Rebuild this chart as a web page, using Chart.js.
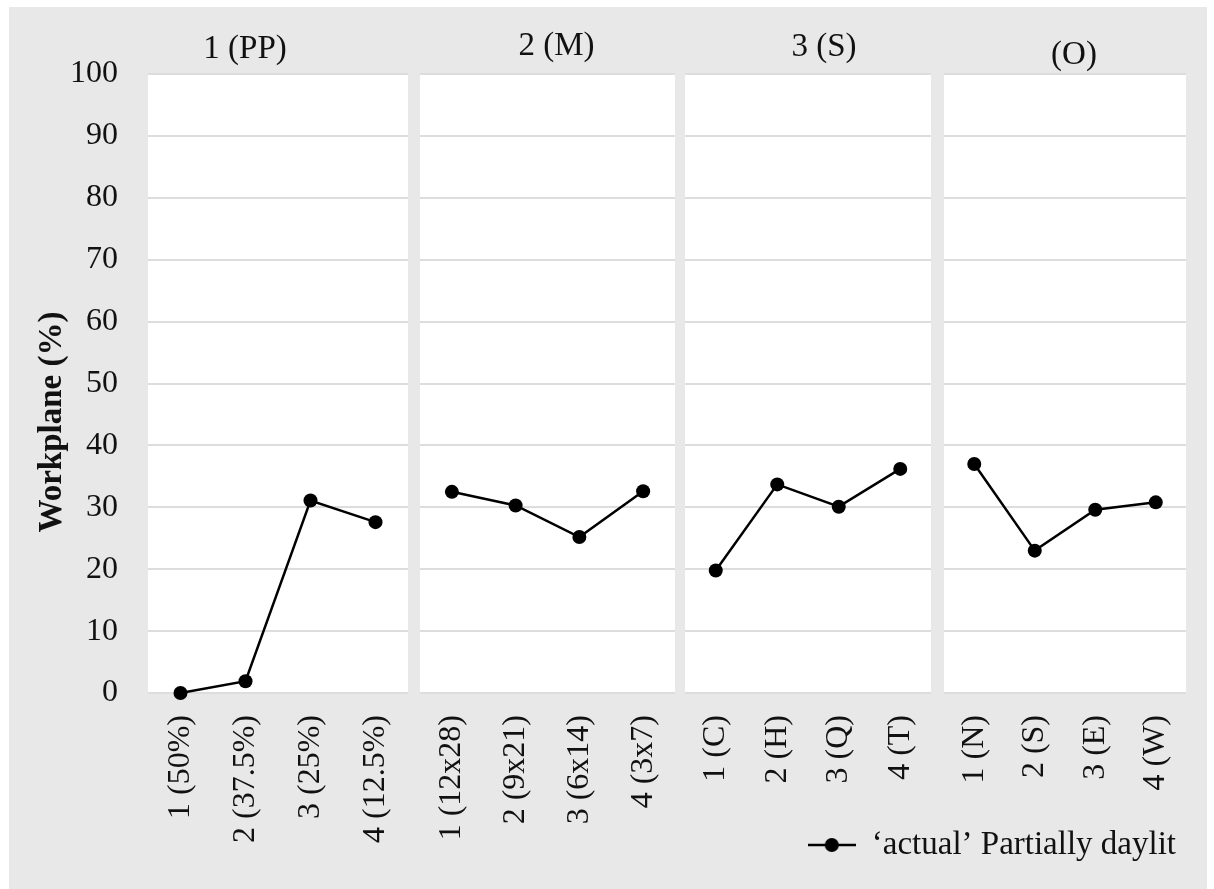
<!DOCTYPE html>
<html>
<head>
<meta charset="utf-8">
<script src="https://cdn.jsdelivr.net/npm/chart.js@4.4.1/dist/chart.umd.min.js"></script>
<style>
  html, body { margin: 0; padding: 0; background: #ffffff; overflow: hidden; }
  #stage { position: relative; width: 1214px; height: 889px; }
  #backdrop { position: absolute; left: 9px; top: 7px; width: 1198px; height: 882px; background: #e8e8e8; }
  #stage canvas { position: absolute; top: 0; }
</style>
</head>
<body>
<div id="stage">
  <div id="backdrop"></div>
  <canvas id="panelPP"></canvas>
  <canvas id="panelM"></canvas>
  <canvas id="panelS"></canvas>
  <canvas id="panelO"></canvas>
</div>
<script>
// ---- data ----
const seriesName = '\u2018actual\u2019 Partially daylit';
const yAxisTitle = 'Workplane (%)';
const panelTitles = ['1 (PP)', '2 (M)', '3 (S)', '(O)'];

const categoriesPP = ['1 (50%)', '2 (37.5%)', '3 (25%)', '4 (12.5%)'];
const categoriesM  = ['1 (12x28)', '2 (9x21)', '3 (6x14)', '4 (3x7)'];
const categoriesS  = ['1 (C)', '2 (H)', '3 (Q)', '4 (T)'];
const categoriesO  = ['1 (N)', '2 (S)', '3 (E)', '4 (W)'];

const valuesPP = [0, 1.9, 31.1, 27.6];
const valuesM  = [32.5, 30.3, 25.2, 32.6];
const valuesS  = [19.8, 33.7, 30.1, 36.2];
const valuesO  = [37.0, 23.0, 29.6, 30.8];

const yMin = 0;
const yMax = 100;
const yStep = 10;

// ---- styling ----
const SERIF = '"Liberation Serif", "Times New Roman", Times, serif';
const INK = '#111111';
const GRID = '#dddddd';
const STAGE_H = 889;
const PLOT_TOP = 74;
const PLOT_BOTTOM = 693;

Chart.defaults.font.family = SERIF;
Chart.defaults.color = INK;

// white plotting surface behind each panel
const plotSurface = {
  id: 'plotSurface',
  beforeDraw(chart) {
    const a = chart.chartArea;
    const ctx = chart.ctx;
    ctx.save();
    ctx.fillStyle = '#ffffff';
    ctx.fillRect(a.left, a.top, a.right - a.left, a.bottom - a.top);
    ctx.restore();
  }
};

// panel heading above the plot, offset from the plot centre
const panelHeading = {
  id: 'panelHeading',
  afterDraw(chart, args, opts) {
    if (!opts || !opts.text) return;
    const a = chart.chartArea;
    const ctx = chart.ctx;
    ctx.save();
    ctx.font = opts.size + 'px ' + SERIF;
    ctx.fillStyle = INK;
    ctx.textAlign = 'center';
    ctx.textBaseline = 'middle';
    ctx.fillText(opts.text, (a.left + a.right) / 2 + opts.dx, opts.y);
    ctx.restore();
  }
};

// rotated value-axis caption
const axisCaption = {
  id: 'axisCaption',
  afterDraw(chart, args, opts) {
    if (!opts || !opts.text) return;
    const ctx = chart.ctx;
    ctx.save();
    ctx.translate(opts.x, opts.y);
    ctx.rotate(-Math.PI / 2);
    ctx.font = 'bold ' + opts.size + 'px ' + SERIF;
    ctx.fillStyle = INK;
    ctx.textAlign = 'center';
    ctx.textBaseline = 'middle';
    ctx.fillText(opts.text, 0, 0);
    ctx.restore();
  }
};

// legend symbol: short line with a dot
function lineDotSymbol() {
  const c = document.createElement('canvas');
  c.width = 48; c.height = 16;
  const g = c.getContext('2d');
  g.strokeStyle = '#000000';
  g.lineWidth = 2.5;
  g.beginPath(); g.moveTo(0, 8); g.lineTo(48, 8); g.stroke();
  g.fillStyle = '#000000';
  g.beginPath(); g.arc(24, 8, 7, 0, Math.PI * 2); g.fill();
  return c;
}
const legendSymbol = lineDotSymbol();

// canvas placement on the stage; yWidth reserves room left of each plot
const panels = [
  { id: 'panelPP', title: panelTitles[0], categories: categoriesPP, values: valuesPP,
    left: 0, width: 408, yWidth: 148, showTicks: true, titleDx: -33, titleY: 49, legend: false },
  { id: 'panelM', title: panelTitles[1], categories: categoriesM, values: valuesM,
    left: 420, width: 255, yWidth: 0, showTicks: false, titleDx: 9, titleY: 46, legend: false },
  { id: 'panelS', title: panelTitles[2], categories: categoriesS, values: valuesS,
    left: 685, width: 246, yWidth: 0, showTicks: false, titleDx: 16, titleY: 47, legend: false },
  { id: 'panelO', title: panelTitles[3], categories: categoriesO, values: valuesO,
    left: 780, width: 406, yWidth: 164, showTicks: false, titleDx: 9, titleY: 55, legend: true }
];

const LEGEND_FONT = 33;
const LEGEND_PAD = 10;
const LEGEND_CENTER_Y = 845;

panels.forEach(p => {
  const canvas = document.getElementById(p.id);
  canvas.width = p.width;
  canvas.height = STAGE_H;
  canvas.style.left = p.left + 'px';
  canvas.style.width = p.width + 'px';
  canvas.style.height = STAGE_H + 'px';

  // legend block height as laid out by Chart.js: item + padding + 10
  const legendBlock = LEGEND_FONT + LEGEND_PAD + 10;
  const legendTop = LEGEND_CENTER_Y - LEGEND_PAD - LEGEND_FONT / 2;
  const padBottom = p.legend ? STAGE_H - legendTop - legendBlock : 0;
  const xAxisHeight = p.legend ? legendTop - PLOT_BOTTOM : STAGE_H - PLOT_BOTTOM;

  new Chart(canvas, {
    type: 'line',
    data: {
      labels: p.categories,
      datasets: [{
        label: seriesName,
        data: p.values,
        borderColor: '#000000',
        borderWidth: 2.5,
        backgroundColor: '#000000',
        pointBackgroundColor: '#000000',
        pointBorderWidth: 0,
        pointRadius: 7,
        pointHoverRadius: 7,
        tension: 0,
        fill: false,
        clip: false
      }]
    },
    plugins: [plotSurface, panelHeading, axisCaption],
    options: {
      responsive: false,
      animation: false,
      devicePixelRatio: 1,
      events: [],
      layout: { autoPadding: false, padding: { left: 0, right: 0, top: PLOT_TOP, bottom: padBottom } },
      scales: {
        x: {
          type: 'category',
          offset: true,
          grid: { display: false, drawTicks: false },
          border: { display: false },
          ticks: {
            minRotation: 90,
            maxRotation: 90,
            autoSkip: false,
            padding: 22,
            color: INK,
            font: { size: 32, family: SERIF }
          },
          afterFit(scale) {
            scale.height = xAxisHeight;
            scale.paddingLeft = 0;
            scale.paddingRight = 0;
          }
        },
        y: {
          min: yMin,
          max: yMax,
          grid: { color: GRID, lineWidth: 2, drawTicks: false },
          border: { display: false },
          ticks: {
            display: p.showTicks,
            stepSize: yStep,
            padding: 30,
            color: INK,
            font: { size: 32, family: SERIF }
          },
          afterFit(scale) {
            scale.width = p.yWidth;
            scale.paddingTop = 0;
            scale.paddingBottom = 0;
          }
        }
      },
      plugins: {
        title: { display: false },
        tooltip: { enabled: false },
        legend: {
          display: p.legend,
          position: 'bottom',
          align: 'end',
          labels: {
            usePointStyle: true,
            pointStyleWidth: 47,
            padding: LEGEND_PAD,
            color: INK,
            font: { size: LEGEND_FONT, family: SERIF },
            generateLabels(chart) {
              const items = Chart.defaults.plugins.legend.labels.generateLabels(chart);
              items.forEach(it => { it.pointStyle = legendSymbol; });
              return items;
            }
          }
        },
        panelHeading: { text: p.title, dx: p.titleDx, y: p.titleY, size: 33 },
        axisCaption: p.showTicks ? { text: yAxisTitle, x: 52, y: 422, size: 33 } : {}
      }
    }
  });
});
</script>
</body>
</html>
